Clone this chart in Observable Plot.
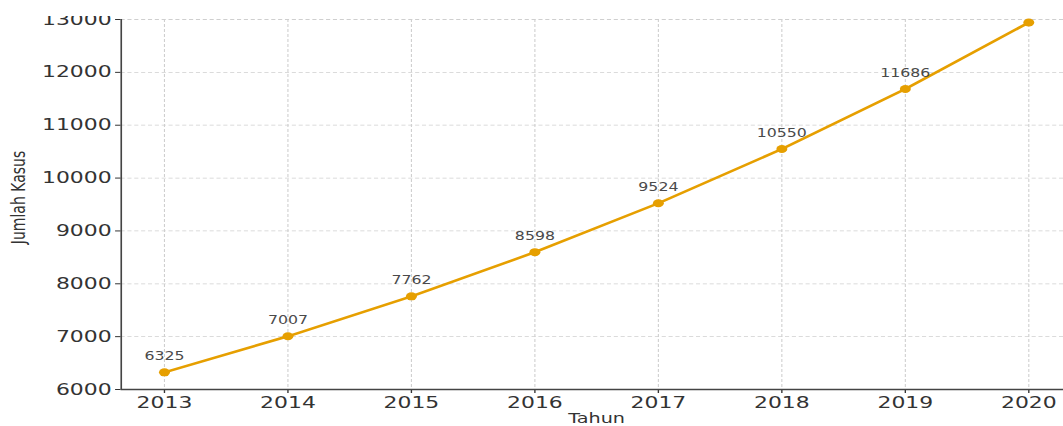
<!DOCTYPE html>
<html>
<head>
<meta charset="utf-8">
<script src="https://cdn.jsdelivr.net/npm/d3@7"></script>
<script src="https://cdn.jsdelivr.net/npm/@observablehq/plot@0.6"></script>
<style>
html, body { margin: 0; padding: 0; background: #fff; overflow: hidden; width: 1063px; height: 426px; }
#wrap { position: relative; width: 1063px; height: 426px; overflow: hidden; }
#chart svg { display: block; transform-origin: 0 0; transform: scaleX(1.37); margin-top: -16px; }
#topmask { position: absolute; left: 0; top: 0; width: 1063px; height: 16px; background: #fff; }
</style>
</head>
<body>
<div id="wrap"><div id="chart"></div><div id="topmask"></div></div>
<script>
const years = [2013, 2014, 2015, 2016, 2017, 2018, 2019, 2020];
const cases = [6325, 7007, 7762, 8598, 9524, 10550, 11686, 12944];
const yTicks = [6000, 7000, 8000, 9000, 10000, 11000, 12000, 13000];
const xDomain = [2012.65, 2020.35];
const yDomain = [6000, 13000];
const xTitle = ["Tahun"];
const yTitle = ["Jumlah Kasus"];

const data = years.map((t, i) => ({ year: t, cases: cases[i] }));
const orange = "#E69F00";

const chart = Plot.plot({
  width: 782,
  height: 442,
  marginLeft: 88,
  marginRight: 0,
  marginTop: 35,
  marginBottom: 37,
  style: { fontFamily: "DejaVu Sans", background: "#fff", overflow: "visible" },
  x: { domain: xDomain, label: null },
  y: { domain: yDomain, label: null },
  marks: [
    Plot.gridX(years, { stroke: "#cfcfcf", strokeOpacity: 1, strokeDasharray: "3,2", strokeWidth: 0.8 }),
    Plot.gridY(yTicks, { stroke: "#cfcfcf", strokeOpacity: 1, strokeDasharray: "3,2", strokeWidth: 0.8 }),
    Plot.axisX(years, { tickFormat: d => String(d), fontSize: 16, tickSize: 4, tickPadding: 3, color: "#333", label: null }),
    Plot.axisY(yTicks, { tickFormat: d => String(d), fontSize: 16, tickSize: 4, tickPadding: 3, color: "#333", label: null }),
    Plot.ruleY([yDomain[0]], { stroke: "#444", strokeWidth: 1.5 }),
    Plot.ruleX([xDomain[0]], { stroke: "#444", strokeWidth: 1.2 }),
    Plot.line(data, { x: "year", y: "cases", stroke: orange, strokeWidth: 2.5 }),
    Plot.dot(data, { x: "year", y: "cases", r: 4, fill: orange, stroke: "none" }),
    Plot.text(data, { x: "year", y: "cases", text: d => String(d.cases), dy: -16, fontSize: 11.5, fill: "#4a4a4a", clip: true }),
    Plot.text(xTitle, { text: d => d, frameAnchor: "bottom", textAnchor: "middle", dy: 33, fontSize: 14, fill: "#333" }),
    Plot.text(yTitle, { text: d => d, frameAnchor: "left", textAnchor: "middle", lineAnchor: "middle", dx: -75, dy: -7, rotate: -90, fontSize: 14, fill: "#333" })
  ]
});
document.getElementById("chart").appendChild(chart);
</script>
</body>
</html>
